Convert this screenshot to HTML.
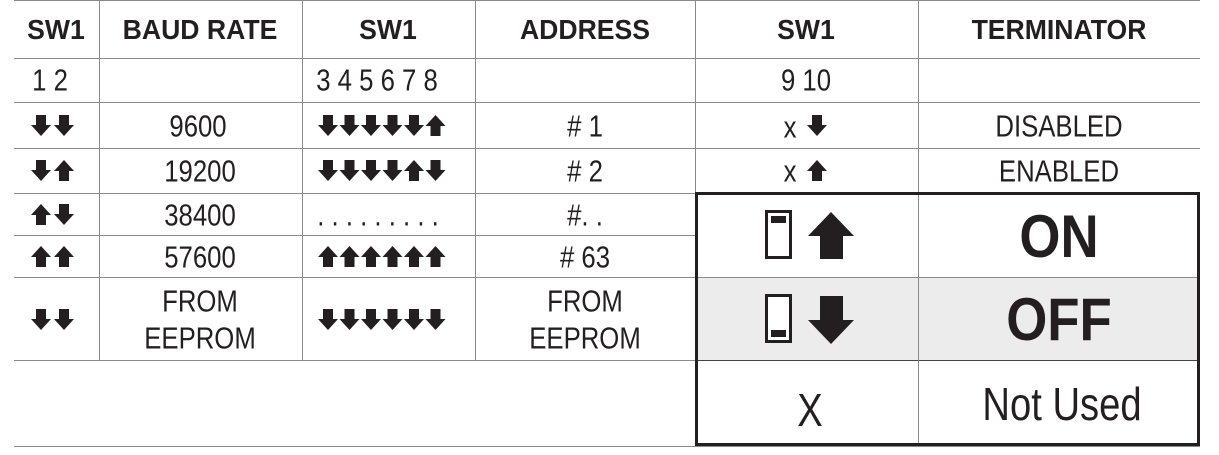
<!DOCTYPE html>
<html><head><meta charset="utf-8"><style>
body{margin:0;width:1219px;height:455px;background:#fff;overflow:hidden;position:relative;font-family:"Liberation Sans",sans-serif;color:#231f20}
.h{position:absolute;height:1px;background:#8a8a8a}
.v{position:absolute;width:1px;background:#8a8a8a}
.t{position:absolute;transform:translate(-50%,-50%) scaleX(.83);white-space:nowrap;font-size:31px;line-height:1}
.b{font-weight:bold;font-size:28px;transform:translate(-50%,-50%) scaleX(.95)}
svg{position:absolute}
</style></head><body>
<div style="position:absolute;left:695px;top:277px;width:505px;height:83px;background:#ececec"></div>
<div class="h" style="left:14px;width:1186px;top:0"></div>
<div class="h" style="left:14px;width:1186px;top:58px"></div>
<div class="h" style="left:14px;width:1186px;top:102px"></div>
<div class="h" style="left:14px;width:1186px;top:148px"></div>
<div class="h" style="left:14px;width:1186px;top:193px"></div>
<div class="h" style="left:14px;width:681px;top:235px"></div>
<div class="h" style="left:14px;width:1186px;top:277px"></div>
<div class="h" style="left:14px;width:1186px;top:360px;background:#444"></div>
<div class="h" style="left:14px;width:681px;top:360px"></div>
<div class="h" style="left:14px;width:1186px;top:446px"></div>
<div class="v" style="left:99px;top:0;height:360px"></div>
<div class="v" style="left:302px;top:0;height:360px"></div>
<div class="v" style="left:475px;top:0;height:360px"></div>
<div class="v" style="left:695px;top:0;height:193px"></div>
<div class="v" style="left:918px;top:0;height:446px"></div>
<div style="position:absolute;left:695px;top:192px;width:499px;height:248px;border:3px solid #231f20"></div>

<div class="t b" style="left:56px;top:30px">SW1</div>
<div class="t b" style="left:200px;top:30px">BAUD RATE</div>
<div class="t b" style="left:388px;top:30px">SW1</div>
<div class="t b" style="left:585px;top:30px">ADDRESS</div>
<div class="t b" style="left:806px;top:30px">SW1</div>
<div class="t b" style="left:1059px;top:30px">TERMINATOR</div>

<div class="t" style="left:50px;top:80px">1 2</div>
<div class="t" style="left:377px;top:80px">3 4 5 6 7 8</div>
<div class="t" style="left:806px;top:80px">9 10</div>
<div class="t" style="left:198px;top:126px">9600</div>
<div class="t" style="left:585px;top:126px"># 1</div>
<div class="t" style="left:1059px;top:126px">DISABLED</div>
<div class="t" style="left:200px;top:171px">19200</div>
<div class="t" style="left:585px;top:171px"># 2</div>
<div class="t" style="left:1059px;top:171px">ENABLED</div>
<div class="t" style="left:200px;top:215px">38400</div>
<div class="t" style="left:378px;top:215px">. . . . . . . . .</div>
<div class="t" style="left:585px;top:215px">#. .</div>
<div class="t" style="left:200px;top:257px">57600</div>
<div class="t" style="left:585px;top:257px"># 63</div>
<div class="t" style="left:200px;top:301px">FROM</div>
<div class="t" style="left:200px;top:338px">EEPROM</div>
<div class="t" style="left:585px;top:301px">FROM</div>
<div class="t" style="left:585px;top:338px">EEPROM</div>
<div class="t" style="left:790px;top:171px">x</div>
<div class="t" style="left:790px;top:127px">x</div>
<div class="t b" style="left:1059px;top:237px;font-size:60px;transform:translate(-50%,-50%) scaleX(.88)">ON</div>
<div class="t b" style="left:1059px;top:320px;font-size:60px;transform:translate(-50%,-50%) scaleX(.88)">OFF</div>
<div class="t" style="left:810px;top:410px;font-size:46px">X</div>
<div class="t" style="left:1062px;top:404px;font-size:46px">Not Used</div>

<svg width="1219" height="455" style="left:0;top:0">
<defs>
<path id="d" d="M5 0H15V10H20L10 21L0 10H5Z" fill="#231f20"/>
<path id="u" d="M5 21H15V11H20L10 0L0 11H5Z" fill="#231f20"/>
</defs>
<use href="#d" x="31" y="115"/><use href="#d" x="54" y="115"/>
<use href="#d" x="31" y="160"/><use href="#u" x="54" y="160"/>
<use href="#u" x="31" y="204"/><use href="#d" x="54" y="204"/>
<use href="#u" x="31" y="246"/><use href="#u" x="54" y="246"/>
<use href="#d" x="31" y="309"/><use href="#d" x="54" y="309"/>
<g transform="translate(318,115)"><use href="#d" x="0"/><use href="#d" x="21.5"/><use href="#d" x="43"/><use href="#d" x="64.5"/><use href="#d" x="86"/><use href="#u" x="107.5"/></g>
<g transform="translate(318,160)"><use href="#d" x="0"/><use href="#d" x="21.5"/><use href="#d" x="43"/><use href="#d" x="64.5"/><use href="#u" x="86"/><use href="#d" x="107.5"/></g>
<g transform="translate(318,246)"><use href="#u" x="0"/><use href="#u" x="21.5"/><use href="#u" x="43"/><use href="#u" x="64.5"/><use href="#u" x="86"/><use href="#u" x="107.5"/></g>
<g transform="translate(318,309)"><use href="#d" x="0"/><use href="#d" x="21.5"/><use href="#d" x="43"/><use href="#d" x="64.5"/><use href="#d" x="86"/><use href="#d" x="107.5"/></g>
<use href="#d" x="807" y="115"/>
<use href="#u" x="807" y="160"/>
<path d="M820 259H843V236H854L831 212L808 236H820Z" fill="#231f20"/>
<path d="M820 296H843V320H854L831 344L808 320H820Z" fill="#231f20"/>
<rect x="766.5" y="211.5" width="24" height="46" fill="#fff" stroke="#231f20" stroke-width="3"/>
<rect x="771" y="216" width="15" height="7" fill="#231f20"/>
<rect x="766.5" y="295.5" width="24" height="46" fill="#fff" stroke="#231f20" stroke-width="3"/>
<rect x="771" y="330" width="15" height="7" fill="#231f20"/>
</svg>
</body></html>
